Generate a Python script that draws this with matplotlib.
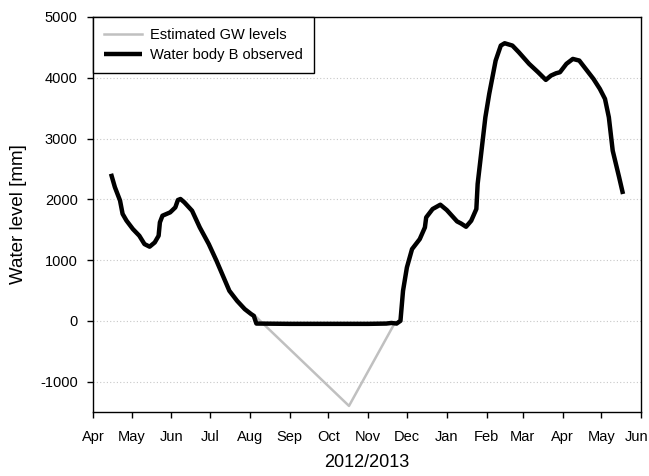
import matplotlib
matplotlib.use("Agg")
import matplotlib.pyplot as plt
import matplotlib.dates as mdates
import matplotlib.transforms as mtransforms
import pandas as pd

plt.rcParams['font.family'] = ['Liberation Sans', 'DejaVu Sans']
plt.rcParams['axes.unicode_minus'] = False

obs_dates = ["2012-04-15", "2012-04-18", "2012-04-22", "2012-04-24", "2012-04-27",
             "2012-05-02", "2012-05-07", "2012-05-11", "2012-05-15", "2012-05-19",
             "2012-05-22", "2012-05-23", "2012-05-25", "2012-05-31", "2012-06-04",
             "2012-06-06", "2012-06-08", "2012-06-11", "2012-06-17", "2012-06-23",
             "2012-06-30", "2012-07-06", "2012-07-11", "2012-07-16", "2012-07-22",
             "2012-07-28", "2012-08-02", "2012-08-04", "2012-08-06", "2012-09-01",
             "2012-10-01", "2012-11-01", "2012-11-15", "2012-11-19", "2012-11-23",
             "2012-11-26", "2012-11-28", "2012-12-01", "2012-12-05", "2012-12-11",
             "2012-12-15", "2012-12-16", "2012-12-21", "2012-12-27", "2013-01-01",
             "2013-01-09", "2013-01-12", "2013-01-16", "2013-01-20", "2013-01-24",
             "2013-01-25", "2013-01-28", "2013-01-31", "2013-02-03", "2013-02-08",
             "2013-02-12", "2013-02-15", "2013-02-21", "2013-02-26", "2013-03-06",
             "2013-03-13", "2013-03-19", "2013-03-23", "2013-03-27", "2013-03-30",
             "2013-04-04", "2013-04-09", "2013-04-14", "2013-04-19", "2013-04-25",
             "2013-04-30", "2013-05-04", "2013-05-07", "2013-05-10", "2013-05-15",
             "2013-05-18"]
obs_values = [2420, 2200, 1980, 1760, 1650,
              1510, 1400, 1263, 1220, 1290,
              1400, 1620, 1730, 1785, 1867,
              1988, 2005, 1950, 1812, 1537,
              1263, 988, 741, 494, 329,
              192, 110, 82, -45, -50,
              -50, -50, -45, -35, -45,
              0, 494, 878, 1180, 1345,
              1537, 1702, 1840, 1911, 1823,
              1636, 1603, 1548, 1647, 1840,
              2252, 2800, 3349, 3734, 4283,
              4530, 4568, 4530, 4420, 4229,
              4091, 3965, 4036, 4074, 4091,
              4229, 4310, 4283, 4146, 3982,
              3817, 3652, 3349, 2800, 2361,
              2087]

gw_dates = ["2012-08-05", "2012-10-17", "2012-11-22"]
gw_values = [80, -1400, -20]

fig = plt.figure(figsize=(6.49, 4.76), dpi=100)
ax = fig.add_axes([0.1433, 0.1345, 0.8444, 0.8298])

ax.plot(pd.to_datetime(gw_dates), gw_values, color='#c0c0c0', lw=1.8,
        label='Estimated GW levels', zorder=2)
ax.plot(pd.to_datetime(obs_dates), obs_values, color='black', lw=3.2,
        solid_joinstyle='round', solid_capstyle='butt',
        label='Water body B observed', zorder=3)

ax.set_xlim(pd.Timestamp("2012-04-01"), pd.Timestamp("2013-06-01"))
ax.set_ylim(-1500, 5000)
ax.set_yticks([-1000, 0, 1000, 2000, 3000, 4000, 5000])
ax.xaxis.set_major_locator(mdates.MonthLocator())
ax.xaxis.set_major_formatter(mdates.DateFormatter('%b'))

ax.grid(axis='y', linestyle=(0, (1, 2)), color='#c8c8c8', lw=0.8)
ax.set_axisbelow(True)
ax.tick_params(direction='out', length=4, width=1, labelsize=10.5, top=False, right=False)
ax.tick_params(axis='x', pad=9)
ax.tick_params(axis='y', pad=7)
for s in ax.spines.values():
    s.set_linewidth(1.0)

ax.set_ylabel('Water level [mm]', fontsize=13.5, labelpad=9)
ax.set_xlabel('2012/2013', fontsize=13, labelpad=7)

leg = ax.legend(loc='upper left', borderaxespad=0, fancybox=False, edgecolor='black',
                framealpha=1, fontsize=10.5, handlelength=2.6, borderpad=0.75,
                labelspacing=0.45, handletextpad=0.55)
leg.get_frame().set_linewidth(1.0)

fig.canvas.draw()
last = ax.get_xticklabels()[-1]
last.set_transform(last.get_transform() + mtransforms.ScaledTranslation(-4 / 100, 0, fig.dpi_scale_trans))

fig.savefig('out.png', dpi=100)
